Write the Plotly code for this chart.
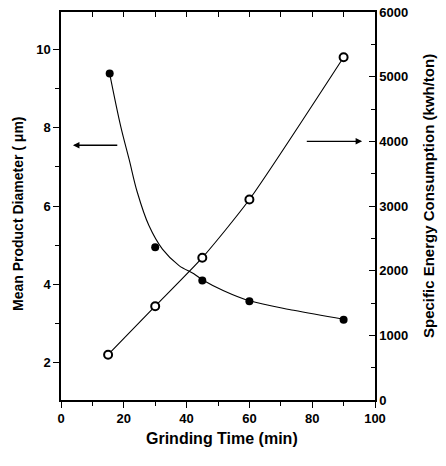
import plotly.graph_objects as go

# ---- data ----
grind_time_d = [15.5, 30, 45, 60, 90]            # min
mean_diameter = [9.38, 4.95, 4.10, 3.57, 3.10]   # um (left axis)

grind_time_e = [15, 30, 45, 60, 90]              # min
energy = [700, 1450, 2200, 3100, 5300]           # kwh/ton (right axis)

# smooth fitted curve through the diameter data
fit_t = [15.5, 19.0, 21.7, 24.3, 28.0, 32.3, 37.6, 42.3, 45, 51.8, 60.1, 74.1, 90]
fit_d = [9.38, 8.04, 7.19, 6.35, 5.50, 4.90, 4.48, 4.27, 4.12, 3.84, 3.58, 3.34, 3.11]

# axis indicator arrows
left_arrow_t = [18.4, 3.8]
left_arrow_d = 7.55
right_arrow_t = [77.8, 95.9]
right_arrow_e = 4000

x_ticks = [0, 20, 40, 60, 80, 100]
y_ticks = [2, 4, 6, 8, 10]
y2_ticks = [0, 1000, 2000, 3000, 4000, 5000, 6000]

FONT = "Liberation Sans"
tickfont = dict(family=FONT, size=13, color="black", weight="bold")

fig = go.Figure()

fig.add_trace(go.Scatter(
    x=fit_t, y=fit_d, mode="lines", line=dict(color="black", width=1.1, shape="spline"),
    yaxis="y", showlegend=False, hoverinfo="skip"))
fig.add_trace(go.Scatter(
    x=grind_time_d, y=mean_diameter, mode="markers",
    marker=dict(symbol="circle", size=8, color="black"),
    yaxis="y", showlegend=False))
fig.add_trace(go.Scatter(
    x=grind_time_e, y=energy, mode="lines+markers",
    line=dict(color="black", width=1.1, shape="spline", smoothing=0.6),
    marker=dict(symbol="circle", size=8, color="white", line=dict(color="black", width=2)),
    yaxis="y2", showlegend=False))
# invisible trace so the top (mirror) axis is drawn
fig.add_trace(go.Scatter(x=[x_ticks[0]], y=[y_ticks[0]], xaxis="x2", yaxis="y",
                         mode="markers", marker=dict(opacity=0), showlegend=False, hoverinfo="skip"))

fig.update_layout(
    width=446, height=466,
    margin=dict(l=61, r=71, t=12, b=66),
    paper_bgcolor="white", plot_bgcolor="white",
    xaxis=dict(
        range=[0, 100], tickvals=x_ticks, ticktext=[str(v) for v in x_ticks],
        ticks="outside", ticklen=6, tickwidth=1.2, tickcolor="black",
        minor=dict(dtick=10, ticks="outside", ticklen=4, tickwidth=1.2, tickcolor="black"),
        showline=True, linecolor="black", linewidth=1.5, showgrid=False, zeroline=False,
        tickfont=tickfont, automargin=False,
    ),
    xaxis2=dict(
        range=[0, 100], overlaying="x", side="top", anchor="y",
        tickvals=list(range(0, 101, 10)), ticks="inside", ticklen=5, tickwidth=1.2, tickcolor="black",
        showticklabels=False, showline=True, linecolor="black", linewidth=1.5,
        showgrid=False, zeroline=False, automargin=False,
    ),
    yaxis=dict(
        range=[1.05, 10.95], tickvals=y_ticks,
        ticks="outside", ticklen=6, tickwidth=1.2, tickcolor="black",
        minor=dict(dtick=1, tick0=0, ticks="outside", ticklen=4, tickwidth=1.2, tickcolor="black"),
        showline=True, linecolor="black", linewidth=1.5, showgrid=False, zeroline=False,
        tickfont=tickfont, automargin=False,
    ),
    yaxis2=dict(
        range=[0, 6000], overlaying="y", side="right", tickvals=y2_ticks,
        ticks="inside", ticklen=6, tickwidth=1.2, tickcolor="black",
        minor=dict(dtick=500, tick0=0, ticks="inside", ticklen=4, tickwidth=1.2, tickcolor="black"),
        showline=True, linecolor="black", linewidth=1.5, showgrid=False, zeroline=False,
        tickfont=tickfont, automargin=False,
    ),
    annotations=[
        dict(text="Grinding Time (min)", xref="paper", yref="paper", x=(222 - 61) / 314, y=-(438 - 400) / 388,
             showarrow=False, xanchor="center", yanchor="middle",
             font=dict(family=FONT, size=16, color="black", weight="bold")),
        dict(text="Mean Product Diameter ( \u03bcm)", xref="paper", yref="paper",
             x=(18 - 61) / 314, y=(400 - 214) / 388, textangle=-90,
             showarrow=False, xanchor="center", yanchor="middle",
             font=dict(family=FONT, size=14, color="black", weight="bold")),
        dict(text="Specific Energy Consumption (kwh/ton)", xref="paper", yref="paper",
             x=(428 - 61) / 314, y=(400 - 196) / 388, textangle=-90,
             showarrow=False, xanchor="center", yanchor="middle",
             font=dict(family=FONT, size=15, color="black", weight="bold")),
        dict(x=left_arrow_t[1], y=left_arrow_d, ax=left_arrow_t[0], ay=left_arrow_d,
             xref="x", yref="y", axref="x", ayref="y", text="", showarrow=True,
             arrowhead=2, arrowsize=1, arrowwidth=1.3, arrowcolor="black"),
        dict(x=right_arrow_t[1], y=right_arrow_e, ax=right_arrow_t[0], ay=right_arrow_e,
             xref="x", yref="y2", axref="x", ayref="y2", text="", showarrow=True,
             arrowhead=2, arrowsize=1, arrowwidth=1.3, arrowcolor="black"),
    ],
)

fig.write_html("out.html")
